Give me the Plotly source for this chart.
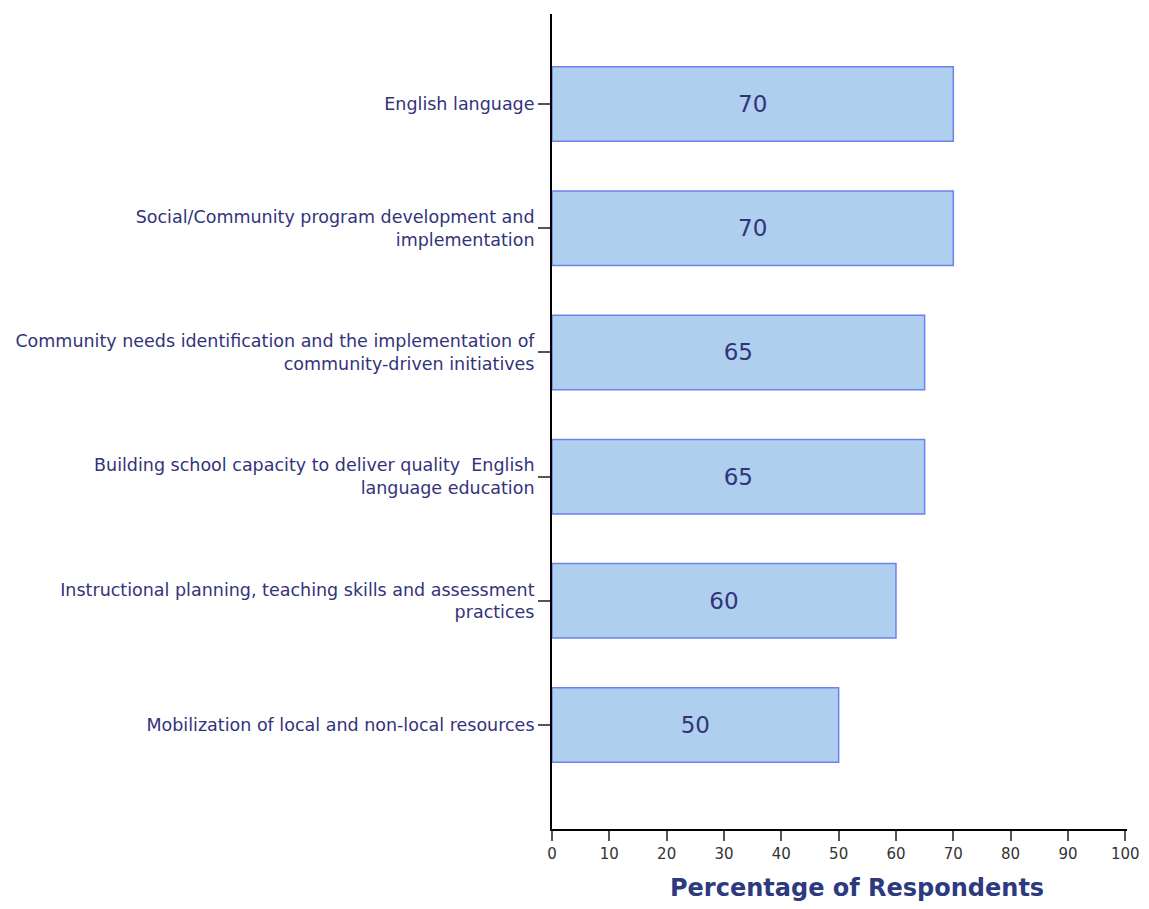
import plotly.graph_objects as go

categories = [
    "Mobilization of local and non-local resources",
    "Instructional planning, teaching skills and assessment<br>practices",
    "Building school capacity to deliver quality  English<br>language education",
    "Community needs identification and the implementation of<br>community-driven initiatives",
    "Social/Community program development and<br>implementation",
    "English language",
]
values = [50, 60, 65, 65, 70, 70]
x_ticks = [0, 10, 20, 30, 40, 50, 60, 70, 80, 90, 100]
x_title = "<b>Percentage of Respondents</b>"

FONT = "DejaVu Sans, Verdana, Arial"

fig = go.Figure(go.Bar(
    y=categories, x=values, orientation="h",
    width=0.6,
    marker=dict(color="#AECFEE", line=dict(color="#7080EE", width=1.5)),
    text=[str(v) for v in values], textposition="inside", insidetextanchor="middle",
    textfont=dict(family=FONT, size=23, color="#33337A"),
    cliponaxis=False,
))

fig.add_annotation(
    text=x_title, xref="paper", yref="paper", x=0.530, y=-0.0724,
    xanchor="center", yanchor="middle", showarrow=False,
    font=dict(family=FONT, size=24, color="#2E3A80"),
)

fig.update_layout(
    width=1133, height=893,
    margin=dict(l=544, r=14, t=6, b=72),
    paper_bgcolor="white", plot_bgcolor="white",
    showlegend=False,
    font=dict(family=FONT),
    xaxis=dict(
        range=[0, 100.3], tickvals=x_ticks, ticks="outside", ticklen=10, tickcolor="#555555",
        tickwidth=1.5, showline=True, linecolor="black", linewidth=1.5, showgrid=False,
        zeroline=False, tickfont=dict(size=15, color="#333333"), automargin=False,
        ticklabeloverflow="allow",
    ),
    yaxis=dict(
        type="category", categoryorder="array", categoryarray=categories,
        range=[-0.837, 5.725], ticks="outside", ticklen=12, tickcolor="#555555", tickwidth=1.5,
        showline=True, linecolor="black", linewidth=2, showgrid=False, zeroline=False,
        tickfont=dict(size=17.5, color="#33337A"), automargin=False,
    ),
)

fig.write_html("out.html")
